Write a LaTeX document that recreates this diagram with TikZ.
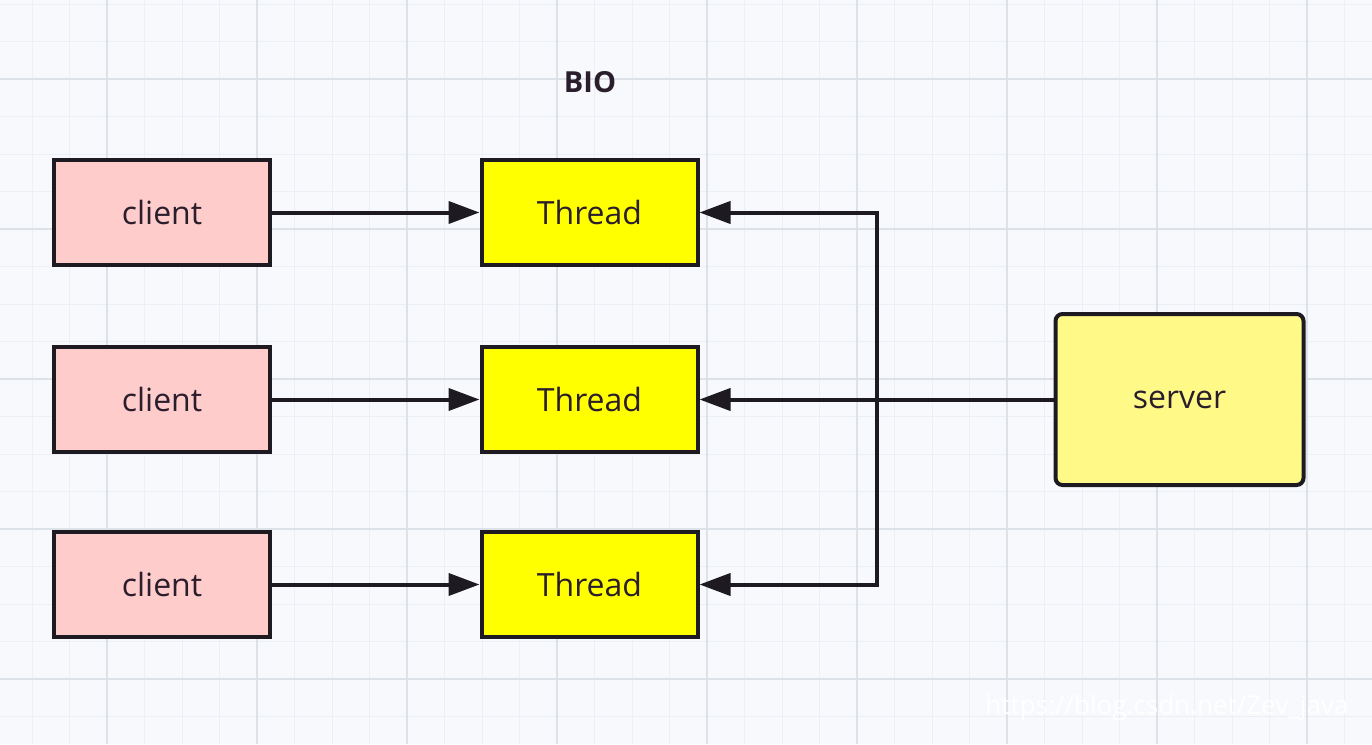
\documentclass[tikz,border=0pt]{standalone}
\usepackage{fontspec}
\setmainfont{Open Sans}
\usetikzlibrary{arrows.meta,positioning}
\definecolor{bg}{HTML}{F7F9FC}
\definecolor{gmin}{HTML}{ECEFF4}
\definecolor{gmaj}{HTML}{DDE2E9}
\definecolor{edge}{HTML}{1E1A22}
\definecolor{txt}{HTML}{2A1E2C}
\definecolor{cli}{HTML}{FFCCCC}
\definecolor{thr}{HTML}{FFFF00}
\definecolor{srv}{HTML}{FFFA88}
\tikzset{
  box/.style={draw=edge,line width=4pt,minimum width=216pt,minimum height=105pt,
    inner sep=0pt,text=txt,font=\fontsize{32}{38}\selectfont},
  cbox/.style={box,fill=cli},
  tbox/.style={box,fill=thr},
  sbox/.style={box,fill=srv,rounded corners=7pt,minimum width=248pt,minimum height=171pt},
  ar/.style={-{Triangle[length=31pt,width=22pt]},line width=4pt,draw=edge},
}

\begin{document}
\begin{tikzpicture}[x=1pt,y=-1pt]
% grid paper
\fill[bg] (0,0) rectangle (1372,744);
\useasboundingbox (0,0) rectangle (1372,744);
\foreach \i in {0,...,37} {
  \draw[gmin,line width=0.8pt] (-5.5+37.5*\i,0) -- (-5.5+37.5*\i,744);
}
\foreach \i in {0,...,20} {
  \draw[gmin,line width=0.8pt] (0,4+37.5*\i) -- (1372,4+37.5*\i);
}
\foreach \i in {0,...,8} {
  \draw[gmaj,line width=1.2pt] (107+150*\i,0) -- (107+150*\i,744);
}
\foreach \i in {0,...,4} {
  \draw[gmaj,line width=1.2pt] (0,79+150*\i) -- (1372,79+150*\i);
}

\node[font=\bfseries\fontsize{29}{34}\selectfont,text=txt] (title) at (590,82) {BIO};

% clients and threads
\node[cbox] (c1) at (162,212.5) {client};
\node[cbox] (c2) at (162,399.5) {client};
\node[cbox] (c3) at (162,584.5) {client};
\node[tbox] (t1) at (589.5,212.5) {Thread};
\node[tbox] (t2) at (589.5,399.5) {Thread};
\node[tbox] (t3) at (589.5,584.5) {Thread};
\node[sbox] (s) at (1179.5,399.5) {\raisebox{-3pt}{server}};

\foreach \k in {1,2,3} {
  \draw[ar] (c\k) -- (t\k);
}
\coordinate (jn) at (877,399.5);
\draw[ar] (s.west) -- (t2.east);
\draw[ar] (jn) |- (t1.east);
\draw[ar] (jn) |- (t3.east);

% watermark
\node[text=white,font=\fontsize{26}{30}\selectfont,anchor=east] (wm) at (1352,708) {https://blog.csdn.net/Zev\_java};
\end{tikzpicture}
\end{document}
